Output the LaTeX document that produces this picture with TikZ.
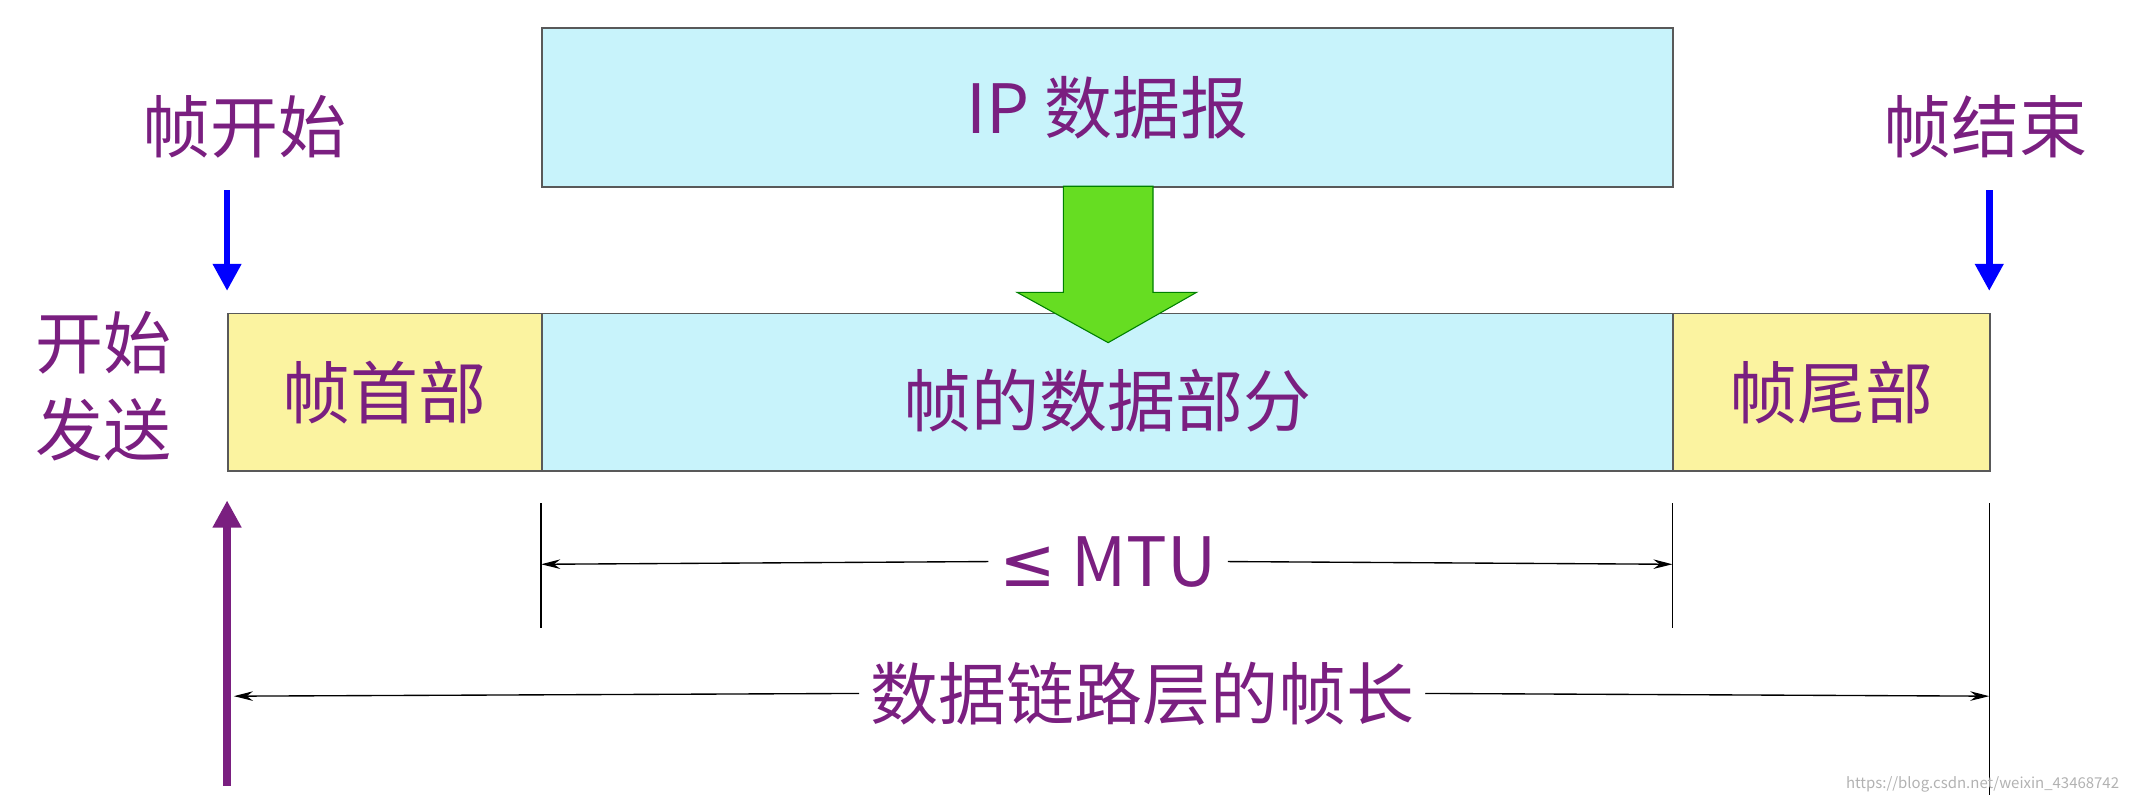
\documentclass[tikz,border=0pt]{standalone}
\usepackage{fontspec}
\setmainfont{Noto Sans CJK SC}
\newfontfamily\symf{DejaVu Sans}
\usetikzlibrary{arrows.meta}
\definecolor{pur}{HTML}{7A1F80}
\definecolor{cyanf}{HTML}{C8F3FB}
\definecolor{yelf}{HTML}{FBF3A0}
\definecolor{grn}{HTML}{66DD22}
\tikzset{
 box/.style={draw=gray!70!black,line width=1.2pt,inner sep=0pt,anchor=north west},
 lbl/.style={text=pur,font=\fontsize{50}{58}\selectfont},
 dim/.style={line width=1pt},
 tick/.style={line width=1pt}
}
\begin{document}
\begin{tikzpicture}[x=1pt,y=-1pt]
\useasboundingbox (0,0) rectangle (1568,588);
\node[box,fill=cyanf,minimum width=832pt,minimum height=117pt] (ip) at (398,20) {};
\node[lbl] at (ip.center) {IP 数据报};
\node[box,fill=yelf,minimum width=231pt,minimum height=116pt] (hd) at (167,230) {};
\node[box,fill=cyanf,minimum width=832pt,minimum height=116pt] (dt) at (398,230) {};
\node[box,fill=yelf,minimum width=233pt,minimum height=116pt] (tl) at (1230,230) {};
\node[lbl] at (hd.center) {帧首部};
\node[lbl] at ([yshift=-6pt]dt.center) {帧的数据部分};
\node[lbl] at (tl.center) {帧尾部};
\fill[grn,draw=green!50!black,line width=0.8pt] (782,137) -- (848,137) -- (848,215) -- (880,215) -- (815,252) -- (748,215) -- (782,215) -- cycle;
\node[lbl] (fs) at (180,93) {帧开始};
\node[lbl] (fe) at (1460,93) {帧结束};
\coordinate (a1) at (167,140); \coordinate (a2) at (167,214);
\coordinate (b1) at (1463,140); \coordinate (b2) at (1463,214);
\draw[blue,line width=5pt,-{Triangle[length=20pt,width=20pt]}] (a1) -- (a2);
\draw[blue,line width=5pt,-{Triangle[length=20pt,width=20pt]}] (b1) -- (b2);
\node[lbl,align=center,font=\fontsize{50}{64}\selectfont] (ks) at (76,284) {开始\\发送};
\coordinate (p1) at (167,578); \coordinate (p2) at (167,368);
\draw[pur,line width=6pt,-{Triangle[length=20pt,width=20pt]}] (p1) -- (p2);
\coordinate (m1) at (398,370); \coordinate (m1b) at (398,462);
\coordinate (m2) at (1230,370); \coordinate (m2b) at (1230,462);
\draw[tick] (m1) -- (m1b); \draw[tick] (m2) -- (m2b);
\node[lbl,fill=white,inner sep=8pt] (mtu) at (815,413) {{\symf ≤} MTU};
\draw[dim,-{Stealth[length=14pt,width=7pt]}] (mtu.west) -- (398,415);
\draw[dim,-{Stealth[length=14pt,width=7pt]}] (mtu.east) -- (1230,415);
\coordinate (f1) at (1463,370); \coordinate (f1b) at (1463,585);
\draw[tick] (f1) -- (f1b);
\node[lbl,fill=white,inner sep=8pt] (fl) at (840,510) {数据链路层的帧长};
\draw[dim,-{Stealth[length=14pt,width=7pt]}] (fl.west) -- (172,512);
\draw[dim,-{Stealth[length=14pt,width=7pt]}] (fl.east) -- (1463,512);
\node[text=gray!60,font=\fontsize{11}{13}\selectfont,anchor=south east] (wm) at (1562,586) {https://blog.csdn.net/weixin\_43468742};
\end{tikzpicture}
\end{document}
